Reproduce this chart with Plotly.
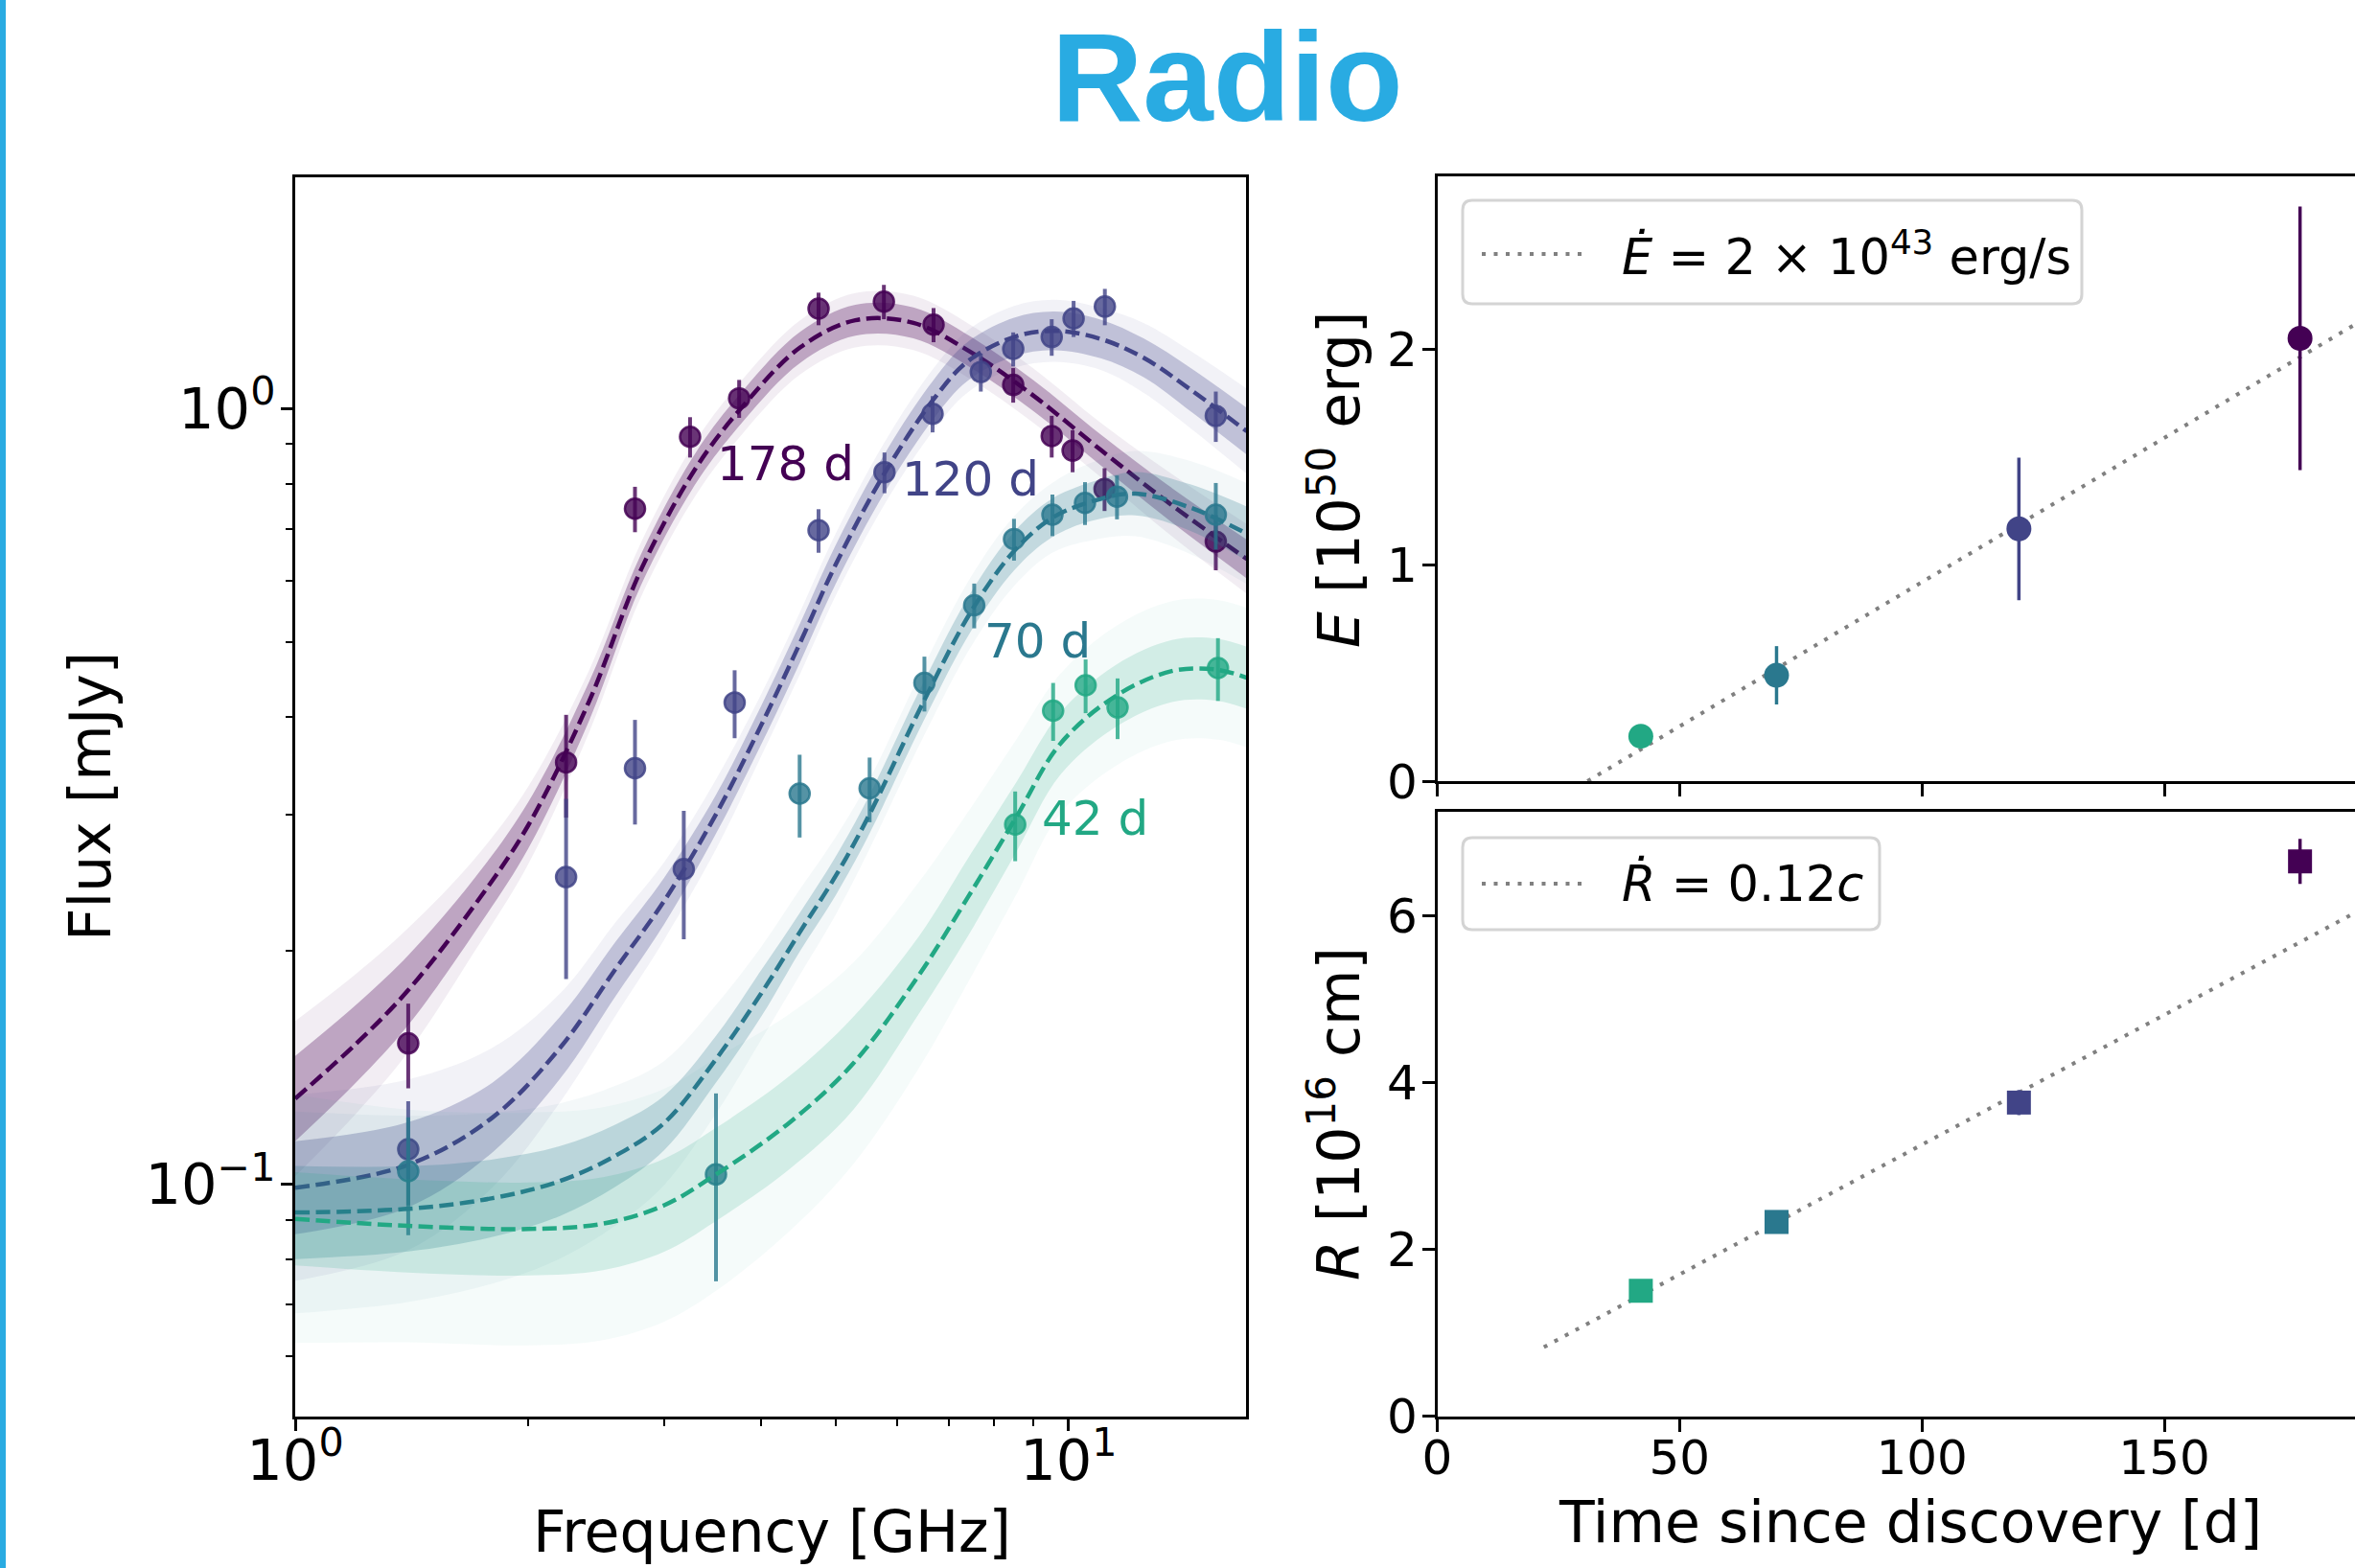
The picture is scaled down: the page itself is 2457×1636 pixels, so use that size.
import math
import plotly.graph_objects as go

W, H = 2457, 1636

# ------------------------------------------------------------------ data
EPOCHS = ["178 d", "120 d", "70 d", "42 d"]
COLORS = ["#440154", "#414487", "#2a788e", "#22a884"]

# measured spectra (frequency GHz, flux mJy, 1-sigma error)
nu_178 = [1.4, 2.24, 2.75, 3.24, 3.75, 4.75, 5.77, 6.69, 8.48, 9.51, 10.12, 11.13, 15.5]
f_178 = [0.152, 0.350, 0.743, 0.920, 1.031, 1.346, 1.374, 1.283, 1.073, 0.922, 0.883, 0.788, 0.674]
e_178 = [0.019, 0.053, 0.050, 0.055, 0.058, 0.065, 0.070, 0.065, 0.055, 0.057, 0.055, 0.050, 0.055]

nu_120 = [1.4, 2.24, 2.75, 3.18, 3.70, 4.75, 5.78, 6.67, 7.70, 8.48, 9.51, 10.15, 11.14, 15.5]
f_120 = [0.111, 0.249, 0.344, 0.255, 0.418, 0.697, 0.828, 0.985, 1.115, 1.194, 1.237, 1.307, 1.354, 0.979]
e_120 = [0.017, 0.065, 0.053, 0.048, 0.042, 0.045, 0.050, 0.053, 0.063, 0.060, 0.067, 0.070, 0.073, 0.073]

nu_70 = [1.4, 3.50, 4.49, 5.53, 6.51, 7.55, 8.50, 9.53, 10.5, 11.55, 15.5]
f_70 = [0.104, 0.103, 0.319, 0.324, 0.443, 0.558, 0.679, 0.730, 0.756, 0.770, 0.730]
e_70 = [0.018, 0.028, 0.039, 0.031, 0.036, 0.037, 0.042, 0.045, 0.048, 0.050, 0.072]

nu_42 = [8.53, 9.55, 10.52, 11.57, 15.6]
f_42 = [0.291, 0.408, 0.440, 0.412, 0.463]
e_42 = [0.030, 0.035, 0.035, 0.037, 0.043]

# best-fit model curves and spread of posterior samples (dex)
mnu_178 = [1.0, 1.2, 1.4, 1.7, 2.0, 2.4, 2.8, 3.3, 3.8, 4.5, 5.3, 6.3, 7.5, 9.0, 11.0, 13.5, 17.0]
mf_178 = [0.129, 0.152, 0.178, 0.228, 0.29, 0.42, 0.62, 0.84, 1.01, 1.20, 1.30, 1.29, 1.18, 1.04, 0.885, 0.755, 0.64]
in_178 = [0.055, 0.05, 0.045, 0.035, 0.03, 0.025, 0.02, 0.02, 0.02, 0.02, 0.02, 0.02, 0.02, 0.02, 0.02, 0.022, 0.025]
out_178 = [0.10, 0.09, 0.08, 0.06, 0.05, 0.04, 0.035, 0.035, 0.035, 0.035, 0.035, 0.035, 0.035, 0.035, 0.035, 0.04, 0.045]

mnu_120 = [1.0, 1.4, 1.8, 2.2, 2.6, 3.0, 3.5, 4.0, 4.5, 5.0, 5.8, 6.7, 7.4, 8.5, 9.6, 11.0, 12.5, 14.4, 17.0]
mf_120 = [0.099, 0.106, 0.122, 0.150, 0.190, 0.232, 0.30, 0.39, 0.50, 0.63, 0.83, 1.03, 1.15, 1.237, 1.26, 1.23, 1.163, 1.057, 0.935]
in_120 = [0.06, 0.055, 0.045, 0.04, 0.035, 0.03, 0.025, 0.025, 0.025, 0.025, 0.025, 0.025, 0.025, 0.025, 0.025, 0.025, 0.025, 0.028, 0.03]
out_120 = [0.12, 0.11, 0.09, 0.07, 0.06, 0.05, 0.045, 0.04, 0.04, 0.04, 0.04, 0.04, 0.04, 0.04, 0.04, 0.04, 0.045, 0.05, 0.055]

mnu_70 = [1.0, 1.4, 1.8, 2.2, 2.6, 3.0, 3.5, 4.0, 4.5, 5.0, 5.5, 6.5, 7.5, 8.5, 9.5, 10.7, 12.2, 14.4, 17.0]
mf_70 = [0.092, 0.093, 0.096, 0.101, 0.109, 0.120, 0.145, 0.176, 0.212, 0.250, 0.297, 0.42, 0.55, 0.655, 0.722, 0.759, 0.777, 0.745, 0.69]
in_70 = [0.06, 0.055, 0.05, 0.045, 0.04, 0.035, 0.03, 0.03, 0.025, 0.025, 0.025, 0.025, 0.025, 0.025, 0.025, 0.025, 0.028, 0.03, 0.035]
out_70 = [0.13, 0.12, 0.11, 0.10, 0.09, 0.08, 0.07, 0.06, 0.055, 0.05, 0.045, 0.045, 0.045, 0.045, 0.045, 0.05, 0.055, 0.06, 0.065]

mnu_42 = [1.0, 1.4, 2.0, 2.5, 3.0, 3.5, 4.35, 5.26, 6.4, 7.4, 8.55, 9.76, 11.5, 13.6, 15.5, 17.0]
mf_42 = [0.0903, 0.0884, 0.0876, 0.089, 0.094, 0.103, 0.120, 0.143, 0.186, 0.234, 0.297, 0.37, 0.426, 0.459, 0.461, 0.450]
in_42 = [0.06, 0.06, 0.06, 0.06, 0.06, 0.06, 0.06, 0.06, 0.05, 0.05, 0.045, 0.04, 0.04, 0.04, 0.04, 0.04]
out_42 = [0.16, 0.15, 0.15, 0.15, 0.15, 0.15, 0.14, 0.13, 0.12, 0.11, 0.10, 0.09, 0.09, 0.09, 0.09, 0.09]

# energy / radius evolution
t_days = [178, 120, 70, 42]
energy = [2.05, 1.168, 0.49, 0.208]
energy_err = [0.61, 0.33, 0.135, 0.03]
radius = [6.65, 3.76, 2.33, 1.504]
radius_err = [0.27, 0.15, 0.04, 0.04]

fit_t_E = [31.0, 195.0]
fit_E = [0.0, 2.19]
fit_t_R = [22.0, 195.0]
fit_R = [0.83, 6.21]

X_TICKS_LOG = [1, 10]
X_TICKTEXT_LOG = ["10<sup>0</sup>", "10<sup>1</sup>"]
X_MINOR_LOG = [2, 3, 4, 5, 6, 7, 8, 9]
Y_TICKS_LOG = [0.1, 1]
Y_TICKTEXT_LOG = ["10<sup>\u22121</sup>", "10<sup>0</sup>"]
Y_MINOR_LOG = [0.06, 0.07, 0.08, 0.09, 0.2, 0.3, 0.4, 0.5, 0.6, 0.7, 0.8, 0.9]
T_TICKS = [0, 50, 100, 150]
E_TICKS = [0, 1, 2]
R_TICKS = [0, 2, 4, 6]

# ------------------------------------------------------------------ helpers
FONT = "DejaVu Sans"
BAND_ALPHA_IN = [0.30, 0.28, 0.24, 0.16]
BAND_ALPHA_OUT = [0.07, 0.07, 0.05, 0.045]


def rgba(hexc, a):
    h = hexc.lstrip("#")
    r, g, b = int(h[0:2], 16), int(h[2:4], 16), int(h[4:6], 16)
    return f"rgba({r},{g},{b},{a})"


def PX(x):
    return x / W


def PY(y):
    return 1 - y / H


fig = go.Figure()

spectra = [
    (nu_178, f_178, e_178, mnu_178, mf_178, in_178, out_178),
    (nu_120, f_120, e_120, mnu_120, mf_120, in_120, out_120),
    (nu_70, f_70, e_70, mnu_70, mf_70, in_70, out_70),
    (nu_42, f_42, e_42, mnu_42, mf_42, in_42, out_42),
]

for k, ((nu, fl, er, mnu, mf, din, dout), col) in enumerate(zip(spectra, COLORS)):
    for spread, alpha in ((dout, BAND_ALPHA_OUT[k]), (din, BAND_ALPHA_IN[k])):
        hi = [f * 10 ** d for f, d in zip(mf, spread)]
        lo = [f / 10 ** d for f, d in zip(mf, spread)]
        fig.add_trace(go.Scatter(x=mnu, y=hi, mode="lines", line=dict(width=0, shape="spline", color=rgba(col, 0)),
                                 xaxis="x", yaxis="y", showlegend=False, hoverinfo="skip"))
        fig.add_trace(go.Scatter(x=mnu, y=lo, mode="lines", line=dict(width=0, shape="spline", color=rgba(col, 0)),
                                 fill="tonexty", fillcolor=rgba(col, alpha),
                                 xaxis="x", yaxis="y", showlegend=False, hoverinfo="skip"))
    fig.add_trace(go.Scatter(x=mnu, y=mf, mode="lines",
                             line=dict(color=col, width=4.5, dash="15px,6.5px", shape="spline"),
                             xaxis="x", yaxis="y", showlegend=False))
    fig.add_trace(go.Scatter(x=nu, y=fl, mode="markers",
                             marker=dict(size=21, color=rgba(col, 0.8), line=dict(color=rgba(col, 0.85), width=2.5)),
                             error_y=dict(type="data", array=er, color=rgba(col, 0.8), thickness=4, width=0),
                             xaxis="x", yaxis="y", showlegend=False))

# right panels: fits
fig.add_trace(go.Scatter(x=fit_t_E, y=fit_E, mode="lines",
                         line=dict(color="#808080", width=4, dash="4px,8.5px"),
                         xaxis="x2", yaxis="y2", showlegend=False))
fig.add_trace(go.Scatter(x=fit_t_R, y=fit_R, mode="lines",
                         line=dict(color="#808080", width=4, dash="4px,8.5px"),
                         xaxis="x3", yaxis="y3", showlegend=False))

for i, col in enumerate(COLORS):
    fig.add_trace(go.Scatter(x=[t_days[i]], y=[energy[i]], mode="markers",
                             marker=dict(size=26, color=col, symbol="circle"),
                             error_y=dict(type="data", array=[energy_err[i]], color=col, thickness=3.5, width=0),
                             xaxis="x2", yaxis="y2", showlegend=False))
    fig.add_trace(go.Scatter(x=[t_days[i]], y=[radius[i]], mode="markers",
                             marker=dict(size=25, color=col, symbol="square"),
                             error_y=dict(type="data", array=[radius_err[i]], color=col, thickness=3.5, width=0),
                             xaxis="x3", yaxis="y3", showlegend=False))

# ------------------------------------------------------------------ axes
axis_common = dict(showline=True, linecolor="black", linewidth=2.5, ticks="outside",
                   tickcolor="black", tickwidth=2.5, showgrid=False, zeroline=False, automargin=False)
small_font = dict(family=FONT, size=50, color="black")
big_font = dict(family=FONT, size=59, color="black")

left_x0, left_x1 = 308, 1300
left_top, left_bot = 184.5, 1478
right_x0 = 1499.5
rt_top, rt_bot = 184, 815
rb_top, rb_bot = 846.5, 1477.8

fig.update_layout(
    template="none",
    xaxis=dict(type="log", range=[0, math.log10(16.96)], domain=[PX(left_x0), PX(left_x1)], anchor="y",
               mirror=True, ticklen=12, tickmode="array", tickvals=X_TICKS_LOG, ticktext=X_TICKTEXT_LOG,
               minor=dict(tickmode="array", tickvals=X_MINOR_LOG, ticks="outside", ticklen=7, tickwidth=2,
                          tickcolor="black", showgrid=False),
               ticklabelstandoff=-20, tickfont=big_font, **axis_common),
    yaxis=dict(type="log", range=[math.log10(0.0502), math.log10(1.99)], domain=[PY(left_bot), PY(left_top)],
               anchor="x", mirror=True, ticklen=12, tickmode="array", tickvals=Y_TICKS_LOG, ticktext=Y_TICKTEXT_LOG,
               minor=dict(tickmode="array", tickvals=Y_MINOR_LOG, ticks="outside", ticklen=7, tickwidth=2,
                          tickcolor="black", showgrid=False),
               ticklabelstandoff=-6, tickfont=big_font, **axis_common),
    xaxis2=dict(range=[0, (W - right_x0) / 5.057], domain=[PX(right_x0), 1.0], anchor="y2", mirror=True,
                ticklen=13, tickmode="array", tickvals=T_TICKS, showticklabels=False, tickfont=small_font,
                **axis_common),
    yaxis2=dict(range=[0, 2.8], domain=[PY(rt_bot), PY(rt_top)], anchor="x2", ticklen=13,
                tickmode="array", tickvals=E_TICKS, ticklabelstandoff=-5, tickfont=small_font, **axis_common),
    xaxis3=dict(range=[0, (W - right_x0) / 5.057], domain=[PX(right_x0), 1.0], anchor="y3", mirror=True,
                ticklen=13, tickmode="array", tickvals=T_TICKS, ticklabelstandoff=-16, tickfont=small_font,
                **axis_common),
    yaxis3=dict(range=[0, 7.25], domain=[PY(rb_bot), PY(rb_top)], anchor="x3", ticklen=13,
                tickmode="array", tickvals=R_TICKS, ticklabelstandoff=-5, tickfont=small_font, **axis_common),
)

# ------------------------------------------------------------------ decorations
shapes = []
shapes.append(dict(type="rect", xref="paper", yref="paper", x0=0, x1=PX(6), y0=0, y1=1,
                   fillcolor="#29ABE2", line=dict(width=0)))


def rounded(x0, y0, x1, y1, r):
    return (f"M {PX(x0 + r)},{PY(y0)} L {PX(x1 - r)},{PY(y0)} Q {PX(x1)},{PY(y0)} {PX(x1)},{PY(y0 + r)} "
            f"L {PX(x1)},{PY(y1 - r)} Q {PX(x1)},{PY(y1)} {PX(x1 - r)},{PY(y1)} "
            f"L {PX(x0 + r)},{PY(y1)} Q {PX(x0)},{PY(y1)} {PX(x0)},{PY(y1 - r)} "
            f"L {PX(x0)},{PY(y0 + r)} Q {PX(x0)},{PY(y0)} {PX(x0 + r)},{PY(y0)} Z")


legend_boxes = [
    (1526, 209, 2172, 317, 265, "<i>\u0116</i> = 2 \u00d7 10<sup>43</sup> erg/s"),
    (1526, 874, 1961, 970, 922, "<i>\u1E58</i> = 0.12<i>c</i>"),
]
annotations = []
for x0, y0, x1, y1, yc, txt in legend_boxes:
    shapes.append(dict(type="path", xref="paper", yref="paper", path=rounded(x0, y0, x1, y1, 10),
                       fillcolor="rgba(255,255,255,0.8)", line=dict(color="#d4d4d4", width=3)))
    shapes.append(dict(type="line", xref="paper", yref="paper", x0=PX(1546), x1=PX(1652), y0=PY(yc), y1=PY(yc),
                       line=dict(color="#808080", width=4, dash="4px,8.5px")))
    annotations.append(dict(xref="paper", yref="paper", x=PX(1690), y=PY(yc), text=txt, showarrow=False,
                            xanchor="left", yanchor="middle", font=dict(family=FONT, size=51, color="black")))

# epoch labels
label_pos = [(819, 484), (1012, 500), (1082, 669), (1142, 854)]
for (lx, ly), lab, col in zip(label_pos, EPOCHS, COLORS):
    annotations.append(dict(xref="paper", yref="paper", x=PX(lx), y=PY(ly), text=lab, showarrow=False,
                            xanchor="center", yanchor="middle", font=dict(family=FONT, size=50, color=col)))

# title
annotations.append(dict(xref="paper", yref="paper", x=PX(1280), y=PY(81), text="<b>Radio</b>", showarrow=False,
                        xanchor="center", yanchor="middle",
                        font=dict(family="Liberation Sans, Arial, sans-serif", size=132, color="#29ABE2")))

# axis titles
annotations += [
    dict(xref="paper", yref="paper", x=PX(94), y=PY(831), text="Flux [mJy]", textangle=-90, showarrow=False,
         xanchor="center", yanchor="middle", font=dict(family=FONT, size=60, color="black")),
    dict(xref="paper", yref="paper", x=PX(805), y=PY(1598), text="Frequency [GHz]", showarrow=False,
         xanchor="center", yanchor="middle", font=dict(family=FONT, size=60, color="black")),
    dict(xref="paper", yref="paper", x=PX(1993), y=PY(1588), text="Time since discovery [d]", showarrow=False,
         xanchor="center", yanchor="middle", font=dict(family=FONT, size=60, color="black")),
    dict(xref="paper", yref="paper", x=PX(1393), y=PY(500), text="<i>E</i> [10<sup>50</sup> erg]", textangle=-90,
         showarrow=False, xanchor="center", yanchor="middle", font=dict(family=FONT, size=60, color="black")),
    dict(xref="paper", yref="paper", x=PX(1393), y=PY(1162), text="<i>R</i> [10<sup>16</sup> cm]", textangle=-90,
         showarrow=False, xanchor="center", yanchor="middle", font=dict(family=FONT, size=60, color="black")),
]

fig.update_layout(width=W, height=H, margin=dict(l=0, r=0, t=0, b=0, pad=0), autosize=False,
                  paper_bgcolor="white", plot_bgcolor="white",
                  font=dict(family=FONT, color="black"),
                  shapes=shapes, annotations=annotations, showlegend=False)

fig.write_html("out.html", config={"displayModeBar": False},
               post_script="document.body.style.margin='0px';document.body.style.padding='0px';"
                           "document.documentElement.style.overflow='hidden';")
